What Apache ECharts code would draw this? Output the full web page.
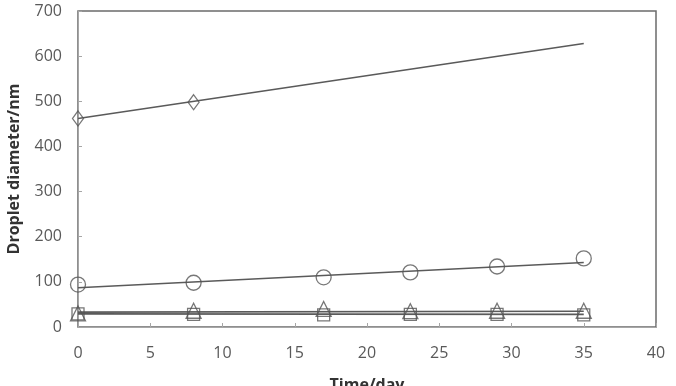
<!DOCTYPE html>
<html><head><meta charset="utf-8">
<script src="https://cdn.jsdelivr.net/npm/echarts@6/dist/echarts.min.js"></script>
<style>html,body{margin:0;padding:0;background:#fff}#c{width:676px;height:386px}</style>
</head><body><div id="c"></div>
<script>
const days = [0, 8, 17, 23, 29, 35];
const diamondDays = [0, 8];
const diamondVals = [462, 498];
const diamondTrend = [[0, 462], [35, 628]];
const circleVals = [94, 98, 110, 121, 134, 152];
const circleTrend = [[0, 87], [35, 143]];
const triangleVals = [30, 36, 40, 35, 36, 36];
const triangleTrend = [[0, 33], [35, 35]];
const squareVals = [29, 28, 27, 28, 28, 27];
const squareTrend = [[0, 29], [35, 28]];
const xTicks = [0, 5, 10, 15, 20, 25, 30, 35, 40];

const lineCol = '#5a5a5a';
const markCol = '#555';
function pts(xs, ys){ return xs.map((x,i)=>[x, ys[i]]); }
function trend(d){ return {type:'line', data:d, symbol:'none', lineStyle:{color:lineCol,width:1.6}, z:2}; }
function marks(d, sym, size){ return {type:'scatter', data:d, symbol:sym, symbolSize:size,
  itemStyle:{color:'rgba(255,255,255,0)', borderColor:markCol, borderWidth:1.3}, z:3}; }

const chart = echarts.init(document.getElementById('c'));
chart.setOption({
  animation:false,
  grid:{left:78, right:20, top:11, bottom:59, containLabel:false, outerBoundsMode:'none',
    show:true, borderColor:'#6b6b6b', borderWidth:1.5},
  xAxis:{type:'value', min:0, max:40, interval:5,
    name:'Time/day', nameLocation:'middle', nameGap:50,
    nameTextStyle:{fontFamily:'Open Sans', fontWeight:'bold', fontSize:16, color:'#333'},
    axisLine:{lineStyle:{color:'#a6a6a6'}}, axisTick:{inside:true, length:4, lineStyle:{color:'#a6a6a6'}},
    axisLabel:{margin:18, color:'#595959', fontFamily:'Open Sans', fontSize:16,
      customValues: xTicks},
    splitLine:{show:false}},
  yAxis:{type:'value', min:0, max:700, interval:100,
    name:'Droplet diameter/nm', nameLocation:'middle', nameGap:56,
    nameTextStyle:{fontFamily:'Open Sans', fontWeight:'bold', fontSize:16, color:'#333'},
    axisLine:{show:true, lineStyle:{color:'#a6a6a6'}}, axisTick:{show:true, inside:true, length:4, lineStyle:{color:'#a6a6a6'}},
    axisLabel:{margin:16, color:'#595959', fontFamily:'Open Sans', fontSize:16},
    splitLine:{show:false}},
  series:[
    trend(diamondTrend), marks(pts(diamondDays, diamondVals), 'diamond', [11,15]),
    trend(circleTrend), marks(pts(days, circleVals), 'circle', 15),
    trend(triangleTrend), marks(pts(days, triangleVals), 'triangle', 15),
    trend(squareTrend), marks(pts(days, squareVals), 'rect', 12)
  ]
});
</script></body></html>
